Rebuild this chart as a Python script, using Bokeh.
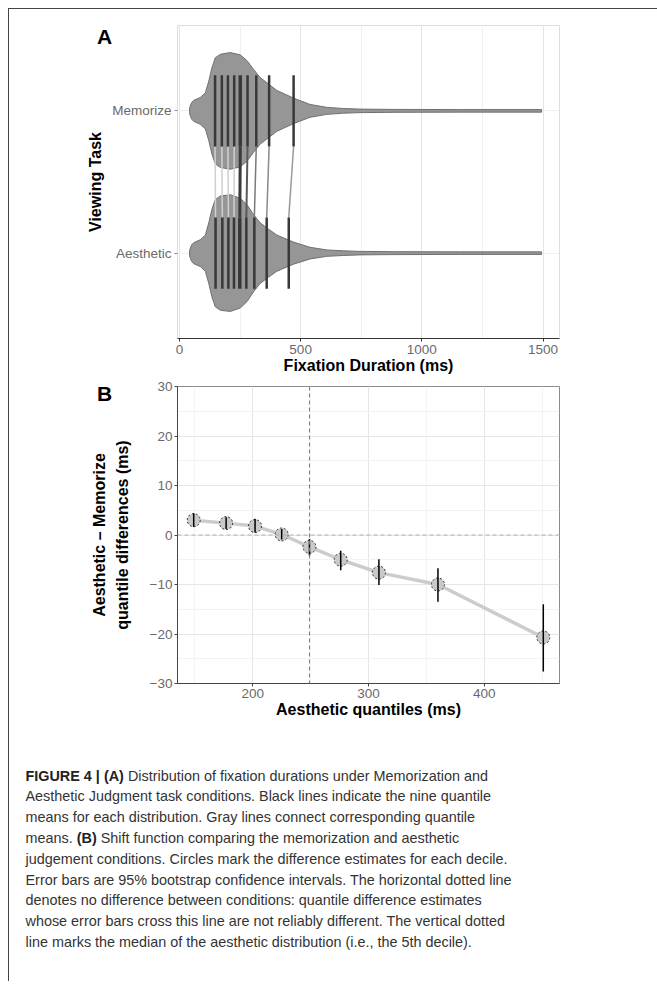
from bokeh.plotting import figure
from bokeh.models import Range1d, FixedTicker, Span
from bokeh.layouts import column
from bokeh.embed import file_html
from bokeh.resources import INLINE
from bokeh.core.properties import value

# ---------------- data ----------------
task_names = ["Aesthetic", "Memorize"]          # drawn at y = 1, 2
task_pos = [1, 2]

violin_x = [42, 50, 59, 86, 107, 121, 134, 148, 169, 210, 251, 279, 306,
            333, 368, 402, 470, 539, 608, 676, 745, 882, 1156, 1494]
memorize_density = [0.05, 0.14, 0.18, 0.23, 0.31, 0.51, 0.74, 0.91, 0.97, 1.0,
                    0.96, 0.86, 0.71, 0.57, 0.46, 0.35, 0.22, 0.11, 0.06,
                    0.04, 0.03, 0.025, 0.022, 0.022]
aesthetic_density = [0.05, 0.14, 0.18, 0.23, 0.31, 0.52, 0.75, 0.92, 0.98, 1.0,
                     0.94, 0.83, 0.66, 0.52, 0.41, 0.31, 0.19, 0.10, 0.055,
                     0.04, 0.03, 0.025, 0.022, 0.022]

memorize_q = [147, 175, 200, 226, 251, 281, 317, 370, 471]
aesthetic_q = [149, 177, 202, 225, 249, 276, 309, 360, 451]

quantile_diff = [3.0, 2.4, 1.8, 0.1, -2.4, -5.0, -7.6, -10.0, -20.7]
ci_low = [1.6, 1.2, 0.5, -0.9, -4.2, -7.1, -10.1, -13.5, -27.6]
ci_high = [4.4, 3.6, 3.3, 1.2, -0.8, -3.2, -4.9, -6.7, -14.0]
aesthetic_median = 249

xticks_a = [0, 500, 1000, 1500]
xminor_a = [250, 750, 1250]
xticks_b = [200, 300, 400]
xminor_b = [150, 250, 350, 450]
yticks_b = [-30, -20, -10, 0, 10, 20, 30]
yminor_b = [-25, -15, -5, 5, 15, 25]
ylabels_b = {-30: "\u221230", -20: "\u221220", -10: "\u221210", 0: "0",
             10: "10", 20: "20", 30: "30"}

panel_tags = ["A", "B"]

caption_lines = [
    "Distribution of fixation durations under Memorization and",
    "Aesthetic Judgment task conditions. Black lines indicate the nine quantile",
    "means for each distribution. Gray lines connect corresponding quantile",
    "Shift function comparing the memorization and aesthetic",
    "judgement conditions. Circles mark the difference estimates for each decile.",
    "Error bars are 95% bootstrap confidence intervals. The horizontal dotted line",
    "denotes no difference between conditions: quantile difference estimates",
    "whose error bars cross this line are not reliably different. The vertical dotted",
    "line marks the median of the aesthetic distribution (i.e., the 5th decile).",
]

FONT = "Liberation Sans"
TICK_COL = "#6a6a6a"
W = 648

# ---------------- panel A ----------------
pa = figure(width=W, height=369, x_range=Range1d(-8, 1568), y_range=Range1d(0.4, 2.6),
            output_backend="svg", toolbar_location=None, title=None,
            min_border_left=168, min_border_right=97, min_border_top=16, min_border_bottom=40)
pa.background_fill_color = "white"
pa.outline_line_color = "#dedede"

half = 0.41
for pos, dens in zip(task_pos, [aesthetic_density, memorize_density]):
    xs = violin_x + violin_x[::-1]
    ys = [pos + half * d for d in dens] + [pos - half * d for d in dens[::-1]]
    pa.patch(xs, ys, fill_color="#969696", line_color="#707070", line_width=1)

link_cols = ["#d0d0d0"] * 4 + ["#3a3a3a", "#5a5a5a", "#7a7a7a", "#8a8a8a", "#9a9a9a"]
link_w = [1.5] * 4 + [3, 2, 1.5, 1.5, 1.5]
pa.segment(x0=memorize_q, y0=[2 - 0.25] * 9, x1=aesthetic_q, y1=[1 + 0.25] * 9,
           line_color=link_cols, line_width=link_w)

q_w = [2.5] * 4 + [3.5] + [2.5] * 4
for pos, q in zip(task_pos, [aesthetic_q, memorize_q]):
    pa.segment(x0=q, y0=[pos - 0.25] * 9, x1=q, y1=[pos + 0.25] * 9,
               line_color="#383838", line_width=q_w)

pa.xaxis.ticker = FixedTicker(ticks=xticks_a, minor_ticks=xminor_a)
pa.yaxis.ticker = FixedTicker(ticks=task_pos)
pa.yaxis.major_label_overrides = dict(zip(task_pos, task_names))
pa.xgrid.grid_line_color = "#e4e4e4"
pa.xgrid.minor_grid_line_color = "#f1f1f1"
pa.ygrid.grid_line_color = "#efefef"
pa.xaxis.axis_label = "Fixation Duration (ms)"
pa.yaxis.axis_label = "Viewing Task"
pa.xaxis.axis_line_color = "#333333"
pa.xaxis.major_tick_line_color = "#333333"
pa.yaxis.axis_line_color = None
pa.yaxis.major_tick_line_color = "#888888"
for ax in [pa.xaxis, pa.yaxis]:
    ax.minor_tick_line_color = None
    ax.major_tick_in = 0
    ax.major_tick_out = 3
    ax.major_label_text_font = FONT
    ax.major_label_text_font_size = "13.5px"
    ax.major_label_text_color = TICK_COL
    ax.axis_label_text_font = FONT
    ax.axis_label_text_font_size = "16px"
    ax.axis_label_text_font_style = "bold"
    ax.axis_label_text_color = "black"
pa.xaxis.major_label_standoff = 2
pa.xaxis.axis_label_standoff = 0
pa.yaxis.major_label_standoff = 3
pa.yaxis.axis_label_standoff = 5

# ---------------- panel B ----------------
pb = figure(width=W, height=344, x_range=Range1d(135, 465), y_range=Range1d(-30, 30),
            output_backend="svg", toolbar_location=None, title=None,
            min_border_left=167, min_border_right=98, min_border_top=8, min_border_bottom=39)
pb.outline_line_color = "#8c8c8c"
pb.xaxis.ticker = FixedTicker(ticks=xticks_b, minor_ticks=xminor_b)
pb.yaxis.ticker = FixedTicker(ticks=yticks_b, minor_ticks=yminor_b)
pb.yaxis.major_label_overrides = ylabels_b
pb.xgrid.grid_line_color = "#e6e6e6"
pb.ygrid.grid_line_color = "#e6e6e6"
pb.xgrid.minor_grid_line_color = "#f3f3f3"
pb.ygrid.minor_grid_line_color = "#f3f3f3"

pb.add_layout(Span(location=0, dimension="width", line_color="#b0b0b0",
                   line_dash="4 3", line_width=1))
pb.add_layout(Span(location=aesthetic_median, dimension="height", line_color="#7a7a7a",
                   line_dash="4 3", line_width=1))
pb.line(aesthetic_q, quantile_diff, line_color="#cccccc", line_width=3.5)
pb.scatter(aesthetic_q, quantile_diff, size=13, fill_color="#c9c9c9",
           line_color="#333333", line_dash="2 2", line_width=1)
pb.segment(x0=aesthetic_q, y0=ci_low, x1=aesthetic_q, y1=ci_high,
           line_color="black", line_width=1.5)

pb.xaxis.axis_label = "Aesthetic quantiles (ms)"
pb.yaxis.axis_label = "Aesthetic \u2013 Memorize\nquantile differences (ms)"
for ax in [pb.xaxis, pb.yaxis]:
    ax.axis_line_color = "#444444"
    ax.major_tick_line_color = "#444444"
    ax.minor_tick_line_color = None
    ax.major_tick_in = 0
    ax.major_tick_out = 3
    ax.major_label_standoff = 1
    ax.major_label_text_font = FONT
    ax.major_label_text_font_size = "13.5px"
    ax.major_label_text_color = TICK_COL
    ax.axis_label_text_font = FONT
    ax.axis_label_text_font_size = "16px"
    ax.axis_label_text_font_style = "bold"
    ax.axis_label_text_color = "black"
    ax.axis_label_text_line_height = 1.3
pb.xaxis.axis_label_standoff = 0
pb.yaxis.axis_label_standoff = 16

# ---------------- caption ----------------
CH = 259
pc = figure(width=W, height=CH, x_range=Range1d(0, W), y_range=Range1d(CH, 0),
            output_backend="svg", toolbar_location=None, title=None, min_border=0,
            styles={"margin-left": "8px", "border-left": "1px solid #444444"})
pc.axis.visible = False
pc.grid.visible = False
pc.outline_line_color = None

fs = 14.4
x0 = 16
line_y = [53 + 20.8 * i for i in range(9)]
sp = 0.278 * fs
bold1 = 6.836 * fs          # width of "FIGURE 4 | (A)"
reg4 = 3.279 * fs           # width of "means."
bold4 = 1.388 * fs          # width of "(B)"
reg_x = [x0 + bold1 + sp, x0, x0, x0 + reg4 + sp + bold4 + sp, x0, x0, x0, x0, x0]
pc.text(x=reg_x, y=line_y, text=caption_lines, text_font=value(FONT),
        text_font_size=value(f"{fs}px"), text_color="#333333", text_baseline="middle")
pc.text(x=[x0, x0 + reg4 + sp], y=[line_y[0], line_y[3]], text=["FIGURE 4 | (A)", "(B)"],
        text_font=value(FONT), text_font_size=value(f"{fs}px"), text_font_style="bold",
        text_color="#222222", text_baseline="middle")
pc.text(x=[x0], y=[line_y[3]], text=["means."], text_font=value(FONT),
        text_font_size=value(f"{fs}px"), text_color="#333333", text_baseline="middle")

# ---------------- panel tags (transparent overlay) ----------------
OW, OH = 200, 420
po = figure(width=OW, height=OH, x_range=Range1d(0, OW), y_range=Range1d(OH, 0),
            output_backend="svg", toolbar_location=None, title=None, min_border=0,
            styles={"position": "absolute", "left": "0px", "top": "0px"})
po.axis.visible = False
po.grid.visible = False
po.outline_line_color = None
po.background_fill_color = None
po.border_fill_color = None
po.text(x=[104, 104], y=[36, 393], text=panel_tags, text_font=value(FONT),
        text_font_size=value("21px"), text_font_style="bold", text_color="black",
        text_align="center", text_baseline="middle")

top = column(pa, pb, spacing=0,
             styles={"margin-left": "8px", "margin-top": "8px",
                     "border-top": "1px solid #444444", "border-left": "1px solid #444444"})

open("out.html", "w").write(file_html([top, pc, po], INLINE))
